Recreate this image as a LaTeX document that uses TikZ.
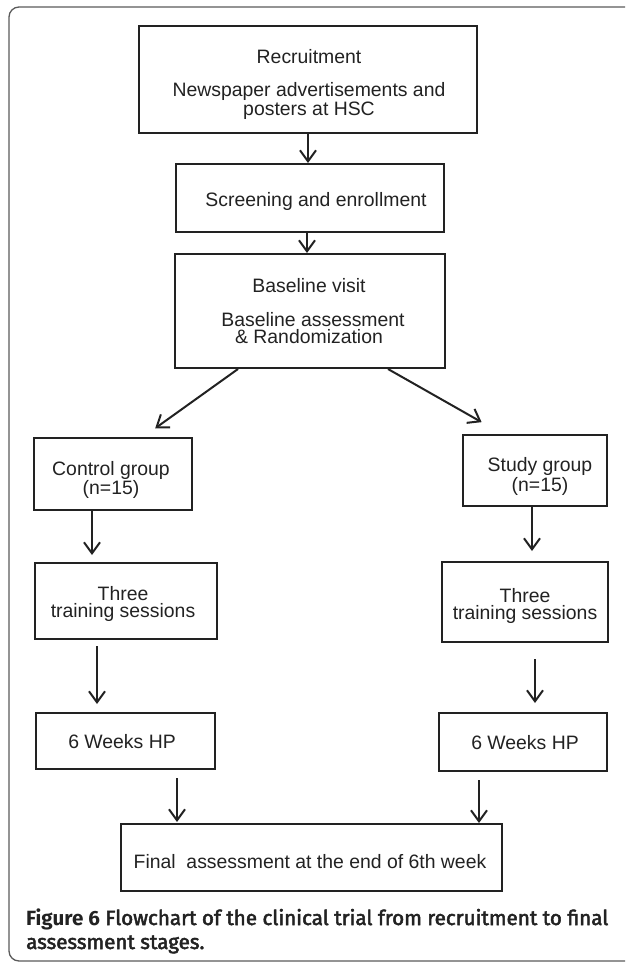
\documentclass[tikz,border=0pt]{standalone}
\usepackage{fontspec}
\setmainfont{Liberation Sans}
\newfontfamily\capfont{Fira Sans}
\newfontfamily\capsemi[FakeBold=2.5]{Fira Sans}
\usetikzlibrary{arrows.meta}
\definecolor{cline}{RGB}{34,34,34}
\definecolor{cframe}{RGB}{90,90,90}
\tikzset{
  stage/.style={
    rectangle, draw=cline, line width=2pt, fill=white, inner sep=0pt
  },
  stagetext/.style={
    align=center, inner sep=0pt, text=cline,
    font=\fontsize{19.4}{17.5}\selectfont
  },
  arr/.style={-{Straight Barb[length=11pt,width=16pt]}, line width=2pt, color=cline},
  frame/.style={draw=cframe, line width=1.3pt, rounded corners=10pt}
}

\begin{document}
\begin{tikzpicture}[x=1pt,y=-1pt]
    \useasboundingbox (0,0) rectangle (625,962);
    \clip (0,0) rectangle (625,962);

    %% ---- Outer frame -----------------------------------------------
    \draw[frame] (9,7) rectangle (660,961);

    %% ---- Common stages ---------------------------------------------
    \node[stage, minimum width=338pt, minimum height=107pt] at (308,79.5) (rec) {};
    \node[stagetext] at (309,84.5) (rec-t)
      {Recruitment\\[15.5pt]Newspaper advertisements and\\posters at HSC};

    \node[stage, minimum width=268pt, minimum height=68pt] at (310,198) (scr) {};
    \node[stagetext] at (316,201) (scr-t) {Screening and enrollment};

    \node[stage, minimum width=270pt, minimum height=114pt] at (310,311) (base) {};
    \node[stagetext] at (309,311) (base-t)
      {Baseline visit\hspace{8pt}\\[16.5pt]\hspace{8pt}Baseline assessment\\\&\ Randomization\hspace{16pt}};

    %% ---- Control arm -----------------------------------------------
    \node[stage, minimum width=158pt, minimum height=72pt] at (113,474) (ctrl) {};
    \node[stagetext] at (111,480) (ctrl-t) {Control group\\(n=15)};

    \node[stage, minimum width=182pt, minimum height=76pt] at (126,601) (ctrl3) {};
    \node[stagetext] at (123,604) (ctrl3-t) {Three\\training sessions};

    \node[stage, minimum width=179pt, minimum height=56pt] at (125.5,741) (ctrl6) {};
    \node[stagetext] at (122,742) (ctrl6-t) {6 Weeks HP};

    %% ---- Study arm -------------------------------------------------
    \node[stage, minimum width=144pt, minimum height=71pt] at (535,470.5) (study) {};
    \node[stagetext] at (540,476.5) (study-t) {Study group\\(n=15)};

    \node[stage, minimum width=166pt, minimum height=80pt] at (525,602) (study3) {};
    \node[stagetext] at (525,606) (study3-t) {Three\\training sessions};

    \node[stage, minimum width=168pt, minimum height=58pt] at (523,742) (study6) {};
    \node[stagetext] at (525,743) (study6-t) {6 Weeks HP};

    %% ---- Final -----------------------------------------------------
    \node[stage, minimum width=381pt, minimum height=67pt] at (311.5,857.5) (final) {};
    \node[stagetext] at (310,861.5) (final-t) {Final\ \ assessment at the end of 6th week};

    %% ---- Connectors ------------------------------------------------
    \draw[arr] (rec.south -| 308,0) -- (scr.north -| 308,0);
    \draw[arr] (scr.south -| 307,0) -- (base.north -| 307,0);
    \draw[arr, shorten >=15pt] (base.south -| 238,0) -- (ctrl.north -| 143,0);
    \draw[arr, shorten >=24pt] (base.south -| 388,0) -- (study.north -| 502.5,0);

    \draw[arr, shorten >=7pt] (ctrl.south -| 92,0) -- (ctrl3.north -| 92,0);
    \draw[arr, shorten <=6pt, shorten >=8pt] (ctrl3.south -| 97,0) -- (ctrl6.north -| 97,0);
    \draw[arr, shorten <=8pt, shorten >=1pt] (ctrl6.south -| 177,0) -- (final.north -| 177,0);

    \draw[arr, shorten >=10pt] (study.south -| 532,0) -- (study3.north -| 532,0);
    \draw[arr, shorten <=16pt, shorten >=9pt] (study3.south -| 535,0) -- (study6.north -| 535,0);
    \draw[arr, shorten <=8pt] (study6.south -| 479,0) -- (final.north -| 479,0);

    %% ---- Caption ---------------------------------------------------
    \node[anchor=base west, align=left, inner sep=0pt,
          font=\capfont\fontsize{20.6}{24}\selectfont, text=cline] at (26,949)
      (cap) {{\bfseries Figure 6} {\capsemi Flowchart of the clinical trial from recruitment to final}\\
             {\capsemi assessment stages.}};

\end{tikzpicture}
\end{document}
